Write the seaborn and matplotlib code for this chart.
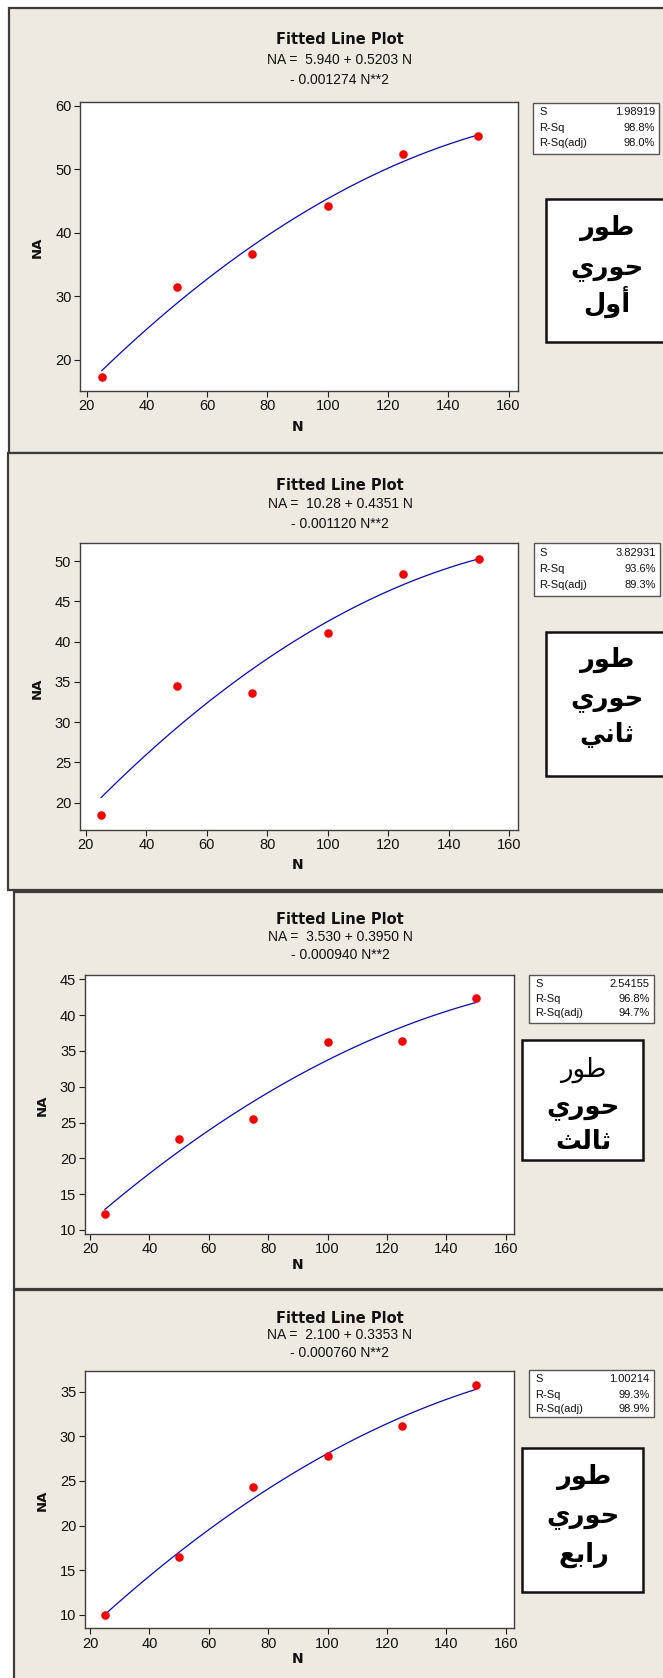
import numpy as np
import pandas as pd
import matplotlib
matplotlib.use("Agg")
import matplotlib.pyplot as plt
from matplotlib.patches import Rectangle
import seaborn as sns

# ---------------- data ----------------
N_values = [25, 50, 75, 100, 125, 150]
NA_stage1 = [17.3, 31.4, 36.7, 44.2, 52.4, 55.2]
NA_stage2 = [18.5, 34.5, 33.6, 41.1, 48.4, 50.2]
NA_stage3 = [12.3, 22.7, 25.5, 36.3, 36.4, 42.4]
NA_stage4 = [10.0, 16.5, 24.3, 27.8, 31.2, 35.8]

equation_line1 = ["NA =  5.940 + 0.5203 N", "NA =  10.28 + 0.4351 N",
                  "NA =  3.530 + 0.3950 N", "NA =  2.100 + 0.3353 N"]
equation_line2 = ["- 0.001274 N**2", "- 0.001120 N**2",
                  "- 0.000940 N**2", "- 0.000760 N**2"]
stat_S = ["1.98919", "3.82931", "2.54155", "1.00214"]
stat_RSq = ["98.8%", "93.6%", "96.8%", "99.3%"]
stat_RSqadj = ["98.0%", "89.3%", "94.7%", "98.9%"]
stage_labels = [["طور", "حوري", "أول"],
                ["طور", "حوري", "ثاني"],
                ["طور", "حوري", "ثالث"],
                ["طور", "حوري", "رابع"]]
x_ticks = [20, 40, 60, 80, 100, 120, 140, 160]
y_ticks = [[20, 30, 40, 50, 60],
           [20, 25, 30, 35, 40, 45, 50],
           [10, 15, 20, 25, 30, 35, 40, 45],
           [10, 15, 20, 25, 30, 35]]

# ---------------- Arabic shaping (matplotlib has no text shaping) ----------------
FORMS = {
    'ط': ('\uFEC1', '\uFEC2', '\uFEC3', '\uFEC4'),
    'و': ('\uFEED', '\uFEEE', None, None),
    'ر': ('\uFEAD', '\uFEAE', None, None),
    'ح': ('\uFEA1', '\uFEA2', '\uFEA3', '\uFEA4'),
    'ي': ('\uFEF1', '\uFEF2', '\uFEF3', '\uFEF4'),
    'أ': ('\uFE83', '\uFE84', None, None),
    'ل': ('\uFEDD', '\uFEDE', '\uFEDF', '\uFEE0'),
    'ث': ('\uFE99', '\uFE9A', '\uFE9B', '\uFE9C'),
    'ا': ('\uFE8D', '\uFE8E', None, None),
    'ن': ('\uFEE5', '\uFEE6', '\uFEE7', '\uFEE8'),
    'ب': ('\uFE8F', '\uFE90', '\uFE91', '\uFE92'),
    'ع': ('\uFEC9', '\uFECA', '\uFECB', '\uFECC'),
}


def shape_arabic(word):
    out = []
    n = len(word)
    for i, ch in enumerate(word):
        f = FORMS[ch]
        prev_j = i > 0 and FORMS[word[i - 1]][2] is not None
        next_j = i < n - 1 and f[2] is not None
        if prev_j and next_j:
            g = f[3]
        elif prev_j:
            g = f[1]
        elif next_j:
            g = f[2]
        else:
            g = f[0]
        out.append(g)
    return "".join(reversed(out))


# ---------------- layout ----------------
W, H = 663, 1678
sns.set_theme(style="white")
plt.rcParams['font.family'] = ['Liberation Sans', 'DejaVu Sans']

fig = plt.figure(figsize=(W / 100, H / 100), dpi=100)
fig.patch.set_facecolor("white")

BG = "#EEEAE0"


def fx(px):
    return px / W


def fy(py):
    return 1 - py / H


def frect(l, t, r, b, **kw):
    fig.add_artist(Rectangle((fx(l), fy(b)), (r - l) / W, (b - t) / H,
                             transform=fig.transFigure, **kw))


panels = [
    dict(frame=(8.5, 8, 700, 453), ax=(80.3, 102, 517.5, 391), xlim=(17.9, 162.95), ylim=(15.1, 60.6),
         title_y=(40, 60, 80), ylab=(37, 247), xlab=(298, 427),
         sbox=(533, 103, 659, 154), srows=(112, 128, 143),
         abox=(546, 199, 700, 342), ax_x=607, arows=(228, 269, 302), abold=(True, True, True)),
    dict(frame=(7.6, 453, 700, 890), ax=(79.5, 543.3, 518.4, 830), xlim=(17.9, 163.0), ylim=(16.6, 52.2),
         title_y=(485, 503.5, 524), ylab=(37, 688), xlab=(298, 865),
         sbox=(533.6, 543, 659.6, 596), srows=(553, 569.5, 585),
         abox=(546, 632, 700, 776), ax_x=607, arows=(660, 700, 735), abold=(True, True, True)),
    dict(frame=(14, 892, 700, 1289), ax=(84.6, 975, 514.5, 1234), xlim=(18.2, 162.9), ylim=(9.44, 45.6),
         title_y=(919.3, 937.3, 955), ylab=(42.3, 1105), xlab=(298, 1265),
         sbox=(529.3, 975, 653.6, 1023), srows=(984, 998.5, 1013.5),
         abox=(522, 1040, 643, 1160), ax_x=583.5, arows=(1070, 1108, 1142), abold=(False, True, True)),
    dict(frame=(14, 1290, 700, 1720), ax=(84.6, 1370.7, 514.5, 1628.3), xlim=(18.2, 162.9), ylim=(8.5, 37.35),
         title_y=(1318.3, 1335, 1352.7), ylab=(42.3, 1500), xlab=(298, 1659),
         sbox=(529.3, 1370, 653.6, 1417.3), srows=(1379, 1394.5, 1408.5),
         abox=(522, 1448, 643, 1592), ax_x=583.5, arows=(1477, 1517, 1555), abold=(True, True, True)),
]

series = [NA_stage1, NA_stage2, NA_stage3, NA_stage4]

for i, p in enumerate(panels):
    # panel frame
    frect(*p["frame"], facecolor=BG, edgecolor="#3c3c3c", linewidth=1.6, zorder=0)

    l, t, r, b = p["ax"]
    ax = fig.add_axes([fx(l), fy(b), (r - l) / W, (b - t) / H])
    ax.set_facecolor("white")
    df = pd.DataFrame({"N": N_values, "NA": series[i]})
    sns.regplot(data=df, x="N", y="NA", order=2, ci=None, ax=ax, truncate=True,
                scatter_kws=dict(color="#FF0000", s=38, linewidths=0, alpha=1, zorder=3),
                line_kws=dict(color="#0000FF", linewidth=0.9, zorder=2))
    ax.set_xlim(*p["xlim"])
    ax.set_ylim(*p["ylim"])
    ax.set_xticks(x_ticks)
    ax.set_yticks(y_ticks[i])
    ax.tick_params(axis="both", which="both", direction="out", length=4, width=0.8,
                   color="#202020", labelsize=10.5, pad=2, labelcolor="#111111",
                   left=True, bottom=True, top=False, right=False)
    for sp in ax.spines.values():
        sp.set_color("#404040")
        sp.set_linewidth(1.0)
    ax.set_xlabel("")
    ax.set_ylabel("")

    cx = 340
    fig.text(fx(cx), fy(p["title_y"][0]), "Fitted Line Plot", ha="center", va="center",
             fontsize=10.5, fontweight="bold", family="DejaVu Sans", color="#111111")
    fig.text(fx(cx), fy(p["title_y"][1]), equation_line1[i], ha="center", va="center",
             fontsize=10, color="#111111")
    fig.text(fx(cx), fy(p["title_y"][2]), equation_line2[i], ha="center", va="center",
             fontsize=10, color="#111111")
    fig.text(fx(p["ylab"][0]), fy(p["ylab"][1]), "NA", rotation=90, ha="center", va="center",
             fontsize=9.5, fontweight="bold", family="DejaVu Sans", color="#111111")
    fig.text(fx(p["xlab"][0]), fy(p["xlab"][1]), "N", ha="center", va="center",
             fontsize=10, fontweight="bold", family="DejaVu Sans", color="#111111")

    # stats box
    sl, st, sr, sb = p["sbox"]
    frect(sl, st, sr, sb, facecolor="white", edgecolor="#555555", linewidth=1.0, zorder=1)
    labels = ["S", "R-Sq", "R-Sq(adj)"]
    vals = [stat_S[i], stat_RSq[i], stat_RSqadj[i]]
    for k in range(3):
        fig.text(fx(sl + 6), fy(p["srows"][k]), labels[k], ha="left", va="center",
                 fontsize=8, color="#111111", zorder=2)
        fig.text(fx(sr - 4), fy(p["srows"][k]), vals[k], ha="right", va="center",
                 fontsize=8, color="#111111", zorder=2)

    # Arabic stage box
    al, at, ar, ab = p["abox"]
    frect(al, at, ar, ab, facecolor="white", edgecolor="#111111", linewidth=1.8, zorder=1)
    for k in range(3):
        fig.text(fx(p["ax_x"]), fy(p["arows"][k]), shape_arabic(stage_labels[i][k]),
                 ha="center", va="center", fontsize=18.5,
                 fontweight="bold" if p["abold"][k] else "normal",
                 family="DejaVu Sans", color="black", zorder=2)

fig.savefig("out.png", dpi=100, facecolor=fig.get_facecolor())
